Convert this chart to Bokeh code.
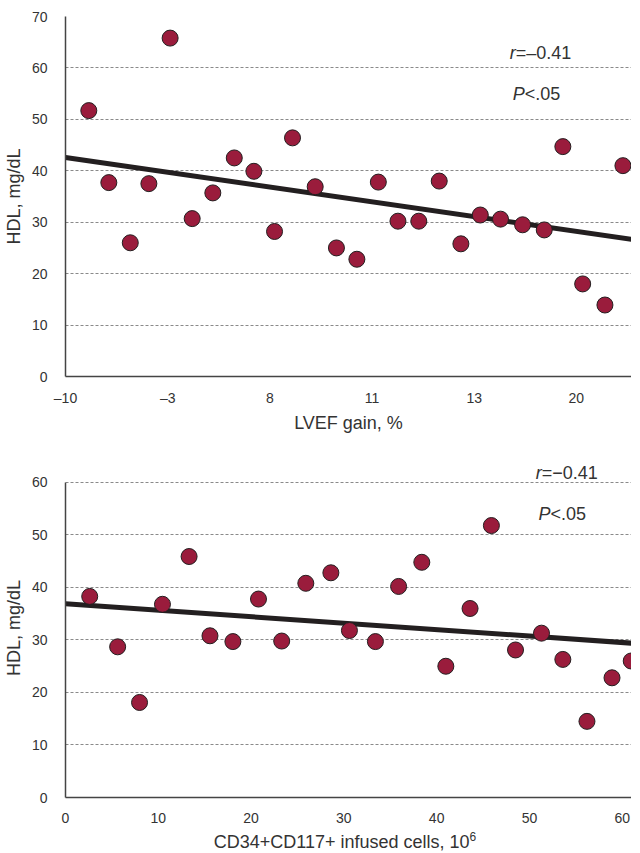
from bokeh.plotting import figure
from bokeh.models import Range1d, FixedTicker, Label, Div
from bokeh.layouts import column
from bokeh.embed import file_html
from bokeh.resources import INLINE

# ---- Top panel data (LVEF gain, category positions) ----
lvef_pos = [1.14, 2.12, 3.17, 4.08, 5.12, 6.20, 7.21, 8.26, 9.22, 10.23, 11.11,
            12.22, 13.26, 14.26, 15.31, 16.27, 17.29, 18.29, 19.35, 20.30, 21.29,
            22.37, 23.43, 24.34, 25.31, 26.40, 27.28]
hdl_top = [51.7, 37.7, 26.0, 37.5, 65.8, 30.7, 35.7, 42.5, 39.9, 28.2, 46.4,
           36.9, 25.0, 22.8, 37.8, 30.2, 30.2, 38.0, 25.8, 31.4, 30.6,
           29.5, 28.5, 44.7, 18.0, 13.9, 41.0]
lvef_tick_pos = [0, 5, 10, 15, 20, 25]
lvef_tick_labels = ["\u201310", "\u20133", "8", "11", "13", "20"]
top_trend_intercept = 42.6
top_trend_slope = -0.575
top_xmax = 27.7

# ---- Bottom panel data (CD34+CD117+ infused cells) ----
cells = [2.61, 5.62, 7.98, 10.45, 13.32, 15.57, 18.04, 20.8, 23.3, 25.9, 28.6,
         30.6, 33.4, 35.9, 38.4, 40.99, 43.6, 45.9, 48.5, 51.3, 53.6, 56.2,
         58.9, 60.97]
hdl_bot = [38.3, 28.7, 18.1, 36.8, 45.9, 30.8, 29.7, 37.8, 29.8, 40.8, 42.8,
           31.8, 29.7, 40.2, 44.8, 25.0, 36.0, 51.8, 28.1, 31.3, 26.3, 14.5,
           22.8, 26.0]
cells_ticks = [0, 10, 20, 30, 40, 50, 60]
bot_trend_intercept = 36.9
bot_trend_slope = -0.123
bot_xmax = 61.0

FONT = "Liberation Sans"
TXT = "#333333"
DOT = "#9a1c3c"
EDGE = "#231f20"
LEFT = 62
FRAME_W = 566


def style(p, yticks):
    p.outline_line_color = None
    p.xgrid.grid_line_color = None
    p.ygrid.grid_line_color = "#8a8a8a"
    p.ygrid.grid_line_dash = "3 2"
    p.ygrid.grid_line_width = 1
    p.yaxis.ticker = FixedTicker(ticks=yticks)
    p.yaxis.bounds = (yticks[0], yticks[-1])
    for ax in (p.xaxis[0], p.yaxis[0]):
        ax.axis_line_color = "#444444"
        ax.axis_line_width = 1.5
        ax.major_tick_line_color = None
        ax.minor_tick_line_color = None
        ax.major_label_text_font = FONT
        ax.major_label_text_font_size = "14px"
        ax.major_label_text_color = TXT
        ax.axis_label_text_font = FONT
        ax.axis_label_text_font_size = "18px"
        ax.axis_label_text_font_style = "normal"
        ax.axis_label_text_color = TXT
    p.yaxis.major_label_standoff = 12
    p.yaxis.axis_label_standoff = 5


def add_stat(p, x_split_r, y_r, x_split_p, y_p, rtext):
    common = dict(text_font=FONT, text_font_size="18px", text_color=TXT,
                  text_baseline="middle")
    p.add_layout(Label(x=x_split_r, y=y_r, text="r", text_align="right",
                       text_font_style="italic", **common))
    p.add_layout(Label(x=x_split_r, y=y_r, text=rtext, text_align="left", **common))
    p.add_layout(Label(x=x_split_p, y=y_p, text="P", text_align="right",
                       text_font_style="italic", **common))
    p.add_layout(Label(x=x_split_p, y=y_p, text="<.05", text_align="left", **common))


# ---- Top figure ----
p1 = figure(frame_width=FRAME_W, frame_height=360, output_backend="svg",
            toolbar_location=None, x_range=Range1d(0, top_xmax),
            y_range=Range1d(0, 70), min_border_left=LEFT, min_border_right=0,
            min_border_top=16, min_border_bottom=64)
style(p1, list(range(0, 71, 10)))
p1.xaxis.ticker = FixedTicker(ticks=lvef_tick_pos)
p1.xaxis.major_label_overrides = {t: l for t, l in zip(lvef_tick_pos, lvef_tick_labels)}
p1.xaxis.axis_label = "LVEF gain, %"
p1.yaxis.axis_label = "HDL, mg/dL"
p1.xaxis.major_label_standoff = 7
p1.xaxis.axis_label_standoff = 4
tx = [0, top_xmax]
p1.line(tx, [top_trend_intercept + top_trend_slope * v for v in tx],
        line_color=EDGE, line_width=5)
p1.scatter(lvef_pos, hdl_top, size=16, fill_color=DOT, line_color=EDGE, line_width=1)
add_stat(p1, 22.03, 63.0, 22.47, 55.0, "=\u20130.41")

# ---- Bottom figure ----
p2 = figure(frame_width=FRAME_W, frame_height=339, output_backend="svg",
            toolbar_location=None, x_range=Range1d(0, bot_xmax),
            y_range=Range1d(0, 64.57), min_border_left=LEFT, min_border_right=0,
            min_border_top=18, min_border_bottom=30)
style(p2, list(range(0, 61, 10)))
p2.xaxis.ticker = FixedTicker(ticks=cells_ticks)
p2.yaxis.axis_label = "HDL, mg/dL"
p2.xaxis.major_label_standoff = 9
bx = [0, bot_xmax]
p2.line(bx, [bot_trend_intercept + bot_trend_slope * v for v in bx],
        line_color=EDGE, line_width=5)
p2.scatter(cells, hdl_bot, size=16, fill_color=DOT, line_color=EDGE, line_width=1)
add_stat(p2, 51.33, 61.9, 52.27, 54.0, "=\u22120.41")

xtitle = Div(
    text=(f'<div style="width:{FRAME_W}px;margin-left:{LEFT}px;text-align:center;'
          f'padding-top:3px;font-family:\'{FONT}\';font-size:18px;line-height:24px;'
          f'color:{TXT};">'
          'CD34+CD117+ infused cells, 10<span style="font-size:12px;'
          'vertical-align:7px;line-height:0;">6</span></div>'),
    width=LEFT + FRAME_W, height=22, margin=(0, 0, 0, 0))

layout = column(p1, p2, xtitle, spacing=0)
open("out.html", "w").write(file_html(layout, INLINE))
